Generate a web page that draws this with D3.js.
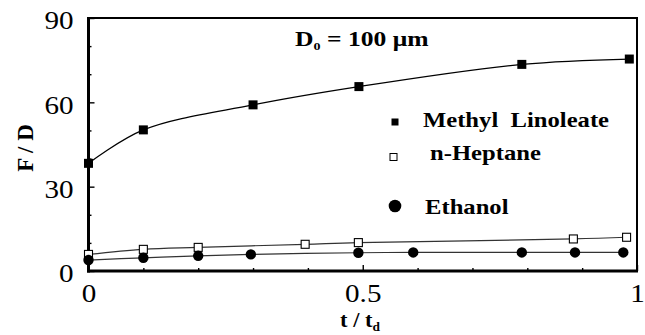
<html>
<head>
<meta charset="utf-8">
<script src="https://cdn.jsdelivr.net/npm/d3@7/dist/d3.min.js"></script>
</head>
<body style="margin:0">
<script>
// Flame standoff ratio F/D versus normalized time t/t_d, D0 = 100 um
const mlT  = [0, 0.1, 0.3, 0.493, 0.79, 0.986];
const mlF  = [38.3, 50.2, 59.1, 65.6, 73.5, 75.4];
const hepT = [0, 0.1, 0.2, 0.395, 0.492, 0.884, 0.981];
const hepF = [5.9, 7.7, 8.4, 9.5, 10.1, 11.4, 12.0];
const ethT = [0, 0.1, 0.2, 0.296, 0.492, 0.592, 0.79, 0.887, 0.975];
const ethF = [3.9, 4.7, 5.4, 5.9, 6.5, 6.6, 6.6, 6.6, 6.6];

const seriesNames = ["Methyl\u00a0\u00a0Linoleate", "n-Heptane", "Ethanol"];
const xMajorTicks = [0, 0.5, 1];
const xMinorTicks = [0.1, 0.2, 0.3, 0.4, 0.6, 0.7, 0.8, 0.9];
const yMajorTicks = [0, 30, 60, 90];
const yMinorTicks = [10, 20, 40, 50, 70, 80];

const SERIF = '"Liberation Serif"';
const SX = 1.12; // the typeface in this figure is set slightly wide
const W = 645, H = 335;
const mLeft = 88.5, mRight = 637, mTop = 18, mBottom = 271;

const svg = d3.select("body").append("svg").attr("width", W).attr("height", H)
  .style("display", "block");

const x = d3.scaleLinear().domain([0, 1]).range([mLeft, mRight]);
const y = d3.scaleLinear().domain([0, 90]).range([mBottom, mTop]);

// Axes with inward ticks
const fmtX = d => d === 0 ? "0" : d === 1 ? "1" : d3.format(".1f")(d);
const gx = svg.append("g").attr("transform", `translate(0,${mBottom})`)
  .call(d3.axisBottom(x).tickValues(xMajorTicks).tickSize(-6).tickPadding(13).tickFormat(fmtX));
const gxm = svg.append("g").attr("transform", `translate(0,${mBottom})`)
  .call(d3.axisBottom(x).tickValues(xMinorTicks).tickSize(-3).tickFormat(""));
const gy = svg.append("g").attr("transform", `translate(${mLeft},0)`)
  .call(d3.axisLeft(y).tickValues(yMajorTicks).tickSize(-6).tickPadding(15).tickFormat(d3.format("d")));
const gym = svg.append("g").attr("transform", `translate(${mLeft},0)`)
  .call(d3.axisLeft(y).tickValues(yMinorTicks).tickSize(-3).tickFormat(""));

[gx, gxm, gy, gym].forEach(g => {
  g.attr("font-family", null).attr("font-size", null);
  g.select(".domain").remove();
  g.selectAll(".tick line").attr("stroke", "#000").attr("stroke-width", 1.4);
  g.selectAll(".tick text").attr("fill", "#000")
    .style("font-family", SERIF).style("font-size", "26px")
    .attr("transform", `scale(${SX},1)`);
});
gy.selectAll(".tick text").attr("dy", "0.42em").attr("x", -15 / SX);

// Plot frame: thick left/bottom, thinner top/right
svg.append("rect").attr("x", mLeft).attr("y", mTop)
  .attr("width", mRight - mLeft).attr("height", mBottom - mTop)
  .attr("fill", "none").attr("stroke", "#000").attr("stroke-width", 2);
svg.append("line").attr("x1", mLeft).attr("x2", mLeft).attr("y1", mTop - 1).attr("y2", mBottom + 1.5)
  .attr("stroke", "#000").attr("stroke-width", 3);
svg.append("line").attr("x1", mLeft - 1.5).attr("x2", mRight + 1).attr("y1", mBottom).attr("y2", mBottom)
  .attr("stroke", "#000").attr("stroke-width", 3);

// Smooth fitted curves
const line = d3.line().x(d => x(d[0])).y(d => y(d[1])).curve(d3.curveCatmullRom.alpha(0.5));
const zip = (a, b) => a.map((v, i) => [v, b[i]]);
svg.append("path").datum(zip(mlT, mlF)).attr("d", line)
  .attr("fill", "none").attr("stroke", "#000").attr("stroke-width", 1.3);
svg.append("path").datum(zip(hepT, hepF)).attr("d", line)
  .attr("fill", "none").attr("stroke", "#333").attr("stroke-width", 1.2);
svg.append("path").datum(zip(ethT, ethF)).attr("d", line)
  .attr("fill", "none").attr("stroke", "#333").attr("stroke-width", 1.2);

// Markers
const sq = 9;
svg.append("g").selectAll("rect").data(zip(mlT, mlF)).join("rect")
  .attr("x", d => x(d[0]) - sq / 2).attr("y", d => y(d[1]) - sq / 2)
  .attr("width", sq).attr("height", sq).attr("fill", "#000");
const osq = 8;
svg.append("g").selectAll("rect").data(zip(hepT, hepF)).join("rect")
  .attr("x", d => x(d[0]) - osq / 2).attr("y", d => y(d[1]) - osq / 2)
  .attr("width", osq).attr("height", osq).attr("fill", "#fff")
  .attr("stroke", "#000").attr("stroke-width", 1.1);
svg.append("g").selectAll("circle").data(zip(ethT, ethF)).join("circle")
  .attr("cx", d => x(d[0])).attr("cy", d => y(d[1])).attr("r", 5.2).attr("fill", "#000");

// Legend
const legend = svg.append("g");
legend.append("rect").attr("x", 391.5).attr("y", 118.5).attr("width", 7).attr("height", 7).attr("fill", "#000");
legend.append("rect").attr("x", 390).attr("y", 153.5).attr("width", 7).attr("height", 7)
  .attr("fill", "#fff").attr("stroke", "#000").attr("stroke-width", 1);
legend.append("circle").attr("cx", 395).attr("cy", 206).attr("r", 6.3).attr("fill", "#000");
const legPos = [[423, 127], [430, 160], [425, 214]];
legend.selectAll("text").data(seriesNames).join("text")
  .attr("transform", (d, i) => `translate(${legPos[i][0]},${legPos[i][1]}) scale(${SX},1)`)
  .style("font-family", SERIF).style("font-size", "22px").style("font-weight", "bold")
  .text(d => d);

// Annotation
const ann = svg.append("text").attr("transform", "translate(295,46) scale(1.28,1)")
  .style("font-family", SERIF).style("font-size", "20px").style("font-weight", "bold");
ann.append("tspan").text("D");
ann.append("tspan").attr("dy", 4).style("font-size", "11px").text("0");
ann.append("tspan").attr("dy", -4).text(" = 100 \u03bcm");

// Axis titles
const xt = svg.append("text").attr("transform", `translate(360,327) scale(${SX},1)`)
  .attr("text-anchor", "middle")
  .style("font-family", SERIF).style("font-size", "20px").style("font-weight", "bold");
xt.append("tspan").text("t / t");
xt.append("tspan").attr("dy", 4).style("font-size", "12px").text("d");

svg.append("text").attr("transform", "translate(33,148) rotate(-90)")
  .attr("text-anchor", "middle")
  .style("font-family", SERIF).style("font-size", "23px").style("font-weight", "bold")
  .text("F / D");
</script>
</body>
</html>
